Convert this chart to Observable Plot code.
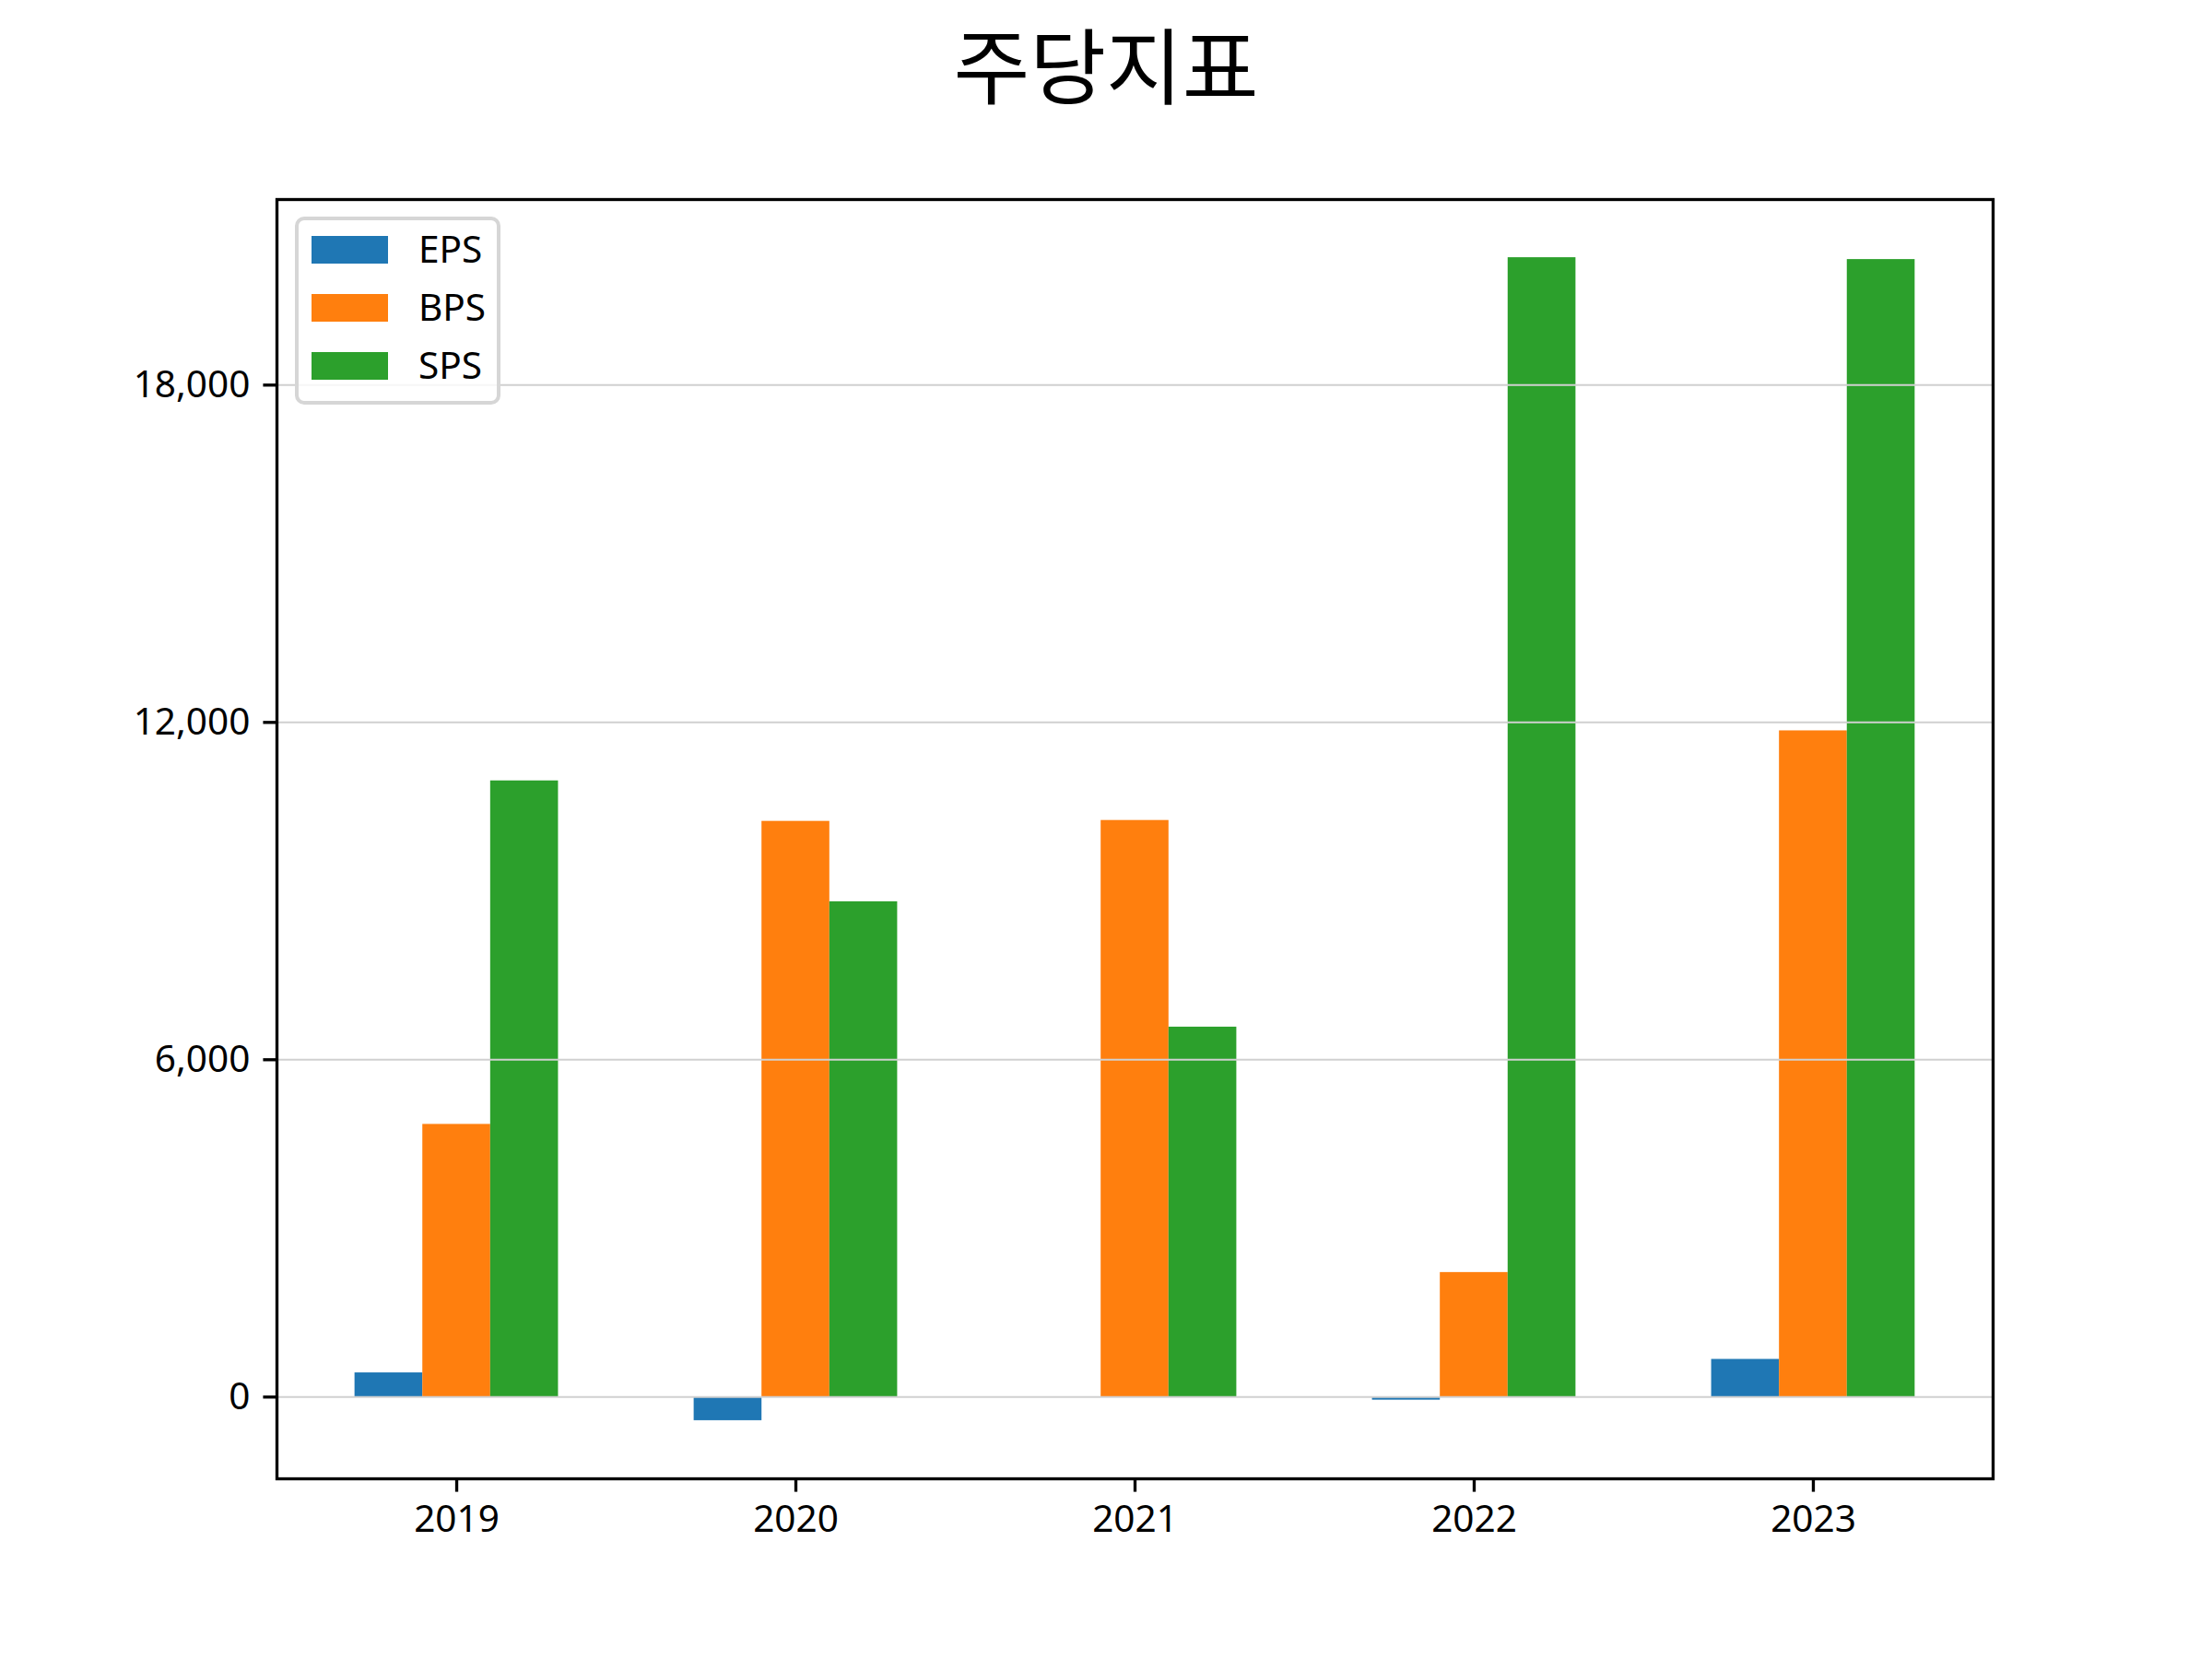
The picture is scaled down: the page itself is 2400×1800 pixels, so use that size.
<!DOCTYPE html>
<html>
<head>
<meta charset="utf-8">
<script src="https://cdn.jsdelivr.net/npm/d3@7"></script>
<script src="https://cdn.jsdelivr.net/npm/@observablehq/plot@0.6"></script>
<style>
  html, body { margin: 0; padding: 0; background: #fff; }
  #page { position: relative; width: 2400px; height: 1800px; overflow: hidden; font-family: "Noto Sans", "Noto Sans CJK KR", sans-serif; }
  #title { position: absolute; left: 0; top: 2px; width: 2400px; text-align: center; font-family: "Noto Sans CJK KR", sans-serif; font-size: 90px; line-height: normal; color: #000; }
  #chart { position: absolute; left: 0; top: 160px; }
  #legend { position: absolute; left: 320px; top: 235px; width: 223px; height: 204px; box-sizing: border-box; border: 4px solid #d6d6d6; border-radius: 10px; background: rgba(255,255,255,0.8); }
  .lg-patch { position: absolute; width: 83px; height: 30px; }
  .lg-label { position: absolute; font-family: "Noto Sans", sans-serif; font-size: 40.5px; line-height: 41.7px; color: #000; }
</style>
</head>
<body>
<div id="page">
  <div id="title"></div>
  <div id="chart"></div>
  <div id="legend"></div>
</div>
<script>
const titleText = "주당지표";
const years = ["2019", "2020", "2021", "2022", "2023"];
const seriesNames = ["EPS", "BPS", "SPS"];
const seriesColors = ["#1f77b4", "#ff7f0e", "#2ca02c"];
const eps = [430, -420, 0, -55, 670];
const bps = [4850, 10240, 10256, 2215, 11850];
const sps = [10960, 8810, 6580, 20266, 20233];
const yTicks = [0, 6000, 12000, 18000];

const seriesValues = [eps, bps, sps];
const barWidth = 0.2;
const data = [];
seriesValues.forEach((vals, k) => {
  vals.forEach((v, i) => {
    const center = i + (k - (seriesNames.length - 1) / 2) * barWidth;
    data.push({series: seriesNames[k], year: years[i], x1: center - barWidth / 2, x2: center + barWidth / 2, value: v});
  });
});

// matplotlib-like 5% auto margins
const xlo = -((seriesNames.length) * barWidth) / 2, xhi = years.length - 1 + ((seriesNames.length) * barWidth) / 2;
const xpad = 0.05 * (xhi - xlo);
const allVals = data.map(d => d.value).concat([0]);
const ylo = d3.min(allVals), yhi = d3.max(allVals);
const ypad = 0.05 * (yhi - ylo);

const px = 300 / 72; // points to pixels at 300 dpi

const chart = Plot.plot({
  width: 2400,
  height: 1640,
  marginTop: 56,
  marginBottom: 196,
  marginLeft: 300,
  marginRight: 238,
  style: {fontFamily: '"Noto Sans", "Noto Sans CJK KR", sans-serif', fontSize: "40.5px", color: "#000", background: "#fff"},
  x: {type: "linear", domain: [xlo - xpad, xhi + xpad]},
  y: {type: "linear", domain: [ylo - ypad, yhi + ypad]},
  color: {domain: seriesNames, range: seriesColors},
  marks: [
    Plot.rect(data, {x1: "x1", x2: "x2", y1: 0, y2: "value", fill: "series"}),
    Plot.gridY(yTicks, {stroke: "#d0d0d0", strokeOpacity: 1, strokeWidth: 2}),
    Plot.axisY(yTicks, {tickFormat: d3.format(","), tickSize: 3.5 * px, tickPadding: 3.5 * px, strokeWidth: 0.8 * px, label: null, fontSize: 40.5}),
    Plot.axisX(d3.range(years.length), {tickFormat: i => years[i], tickSize: 3.5 * px, tickPadding: 3.5 * px, strokeWidth: 0.8 * px, label: null, fontSize: 40.5}),
    Plot.frame({stroke: "#000", strokeWidth: 0.8 * px})
  ]
});
document.getElementById("chart").appendChild(chart);

document.getElementById("title").textContent = titleText;

const legend = document.getElementById("legend");
seriesNames.forEach((name, k) => {
  const patch = document.createElement("div");
  patch.className = "lg-patch";
  patch.style.left = (338 - 324) + "px";
  patch.style.top = (256 - 239 + k * 63) + "px";
  patch.style.background = seriesColors[k];
  legend.appendChild(patch);
  const lab = document.createElement("div");
  lab.className = "lg-label";
  lab.style.left = (454 - 324) + "px";
  lab.style.top = (256 - 239 + k * 63 + 15 - 22) + "px";
  lab.textContent = name;
  legend.appendChild(lab);
});
</script>
</body>
</html>
